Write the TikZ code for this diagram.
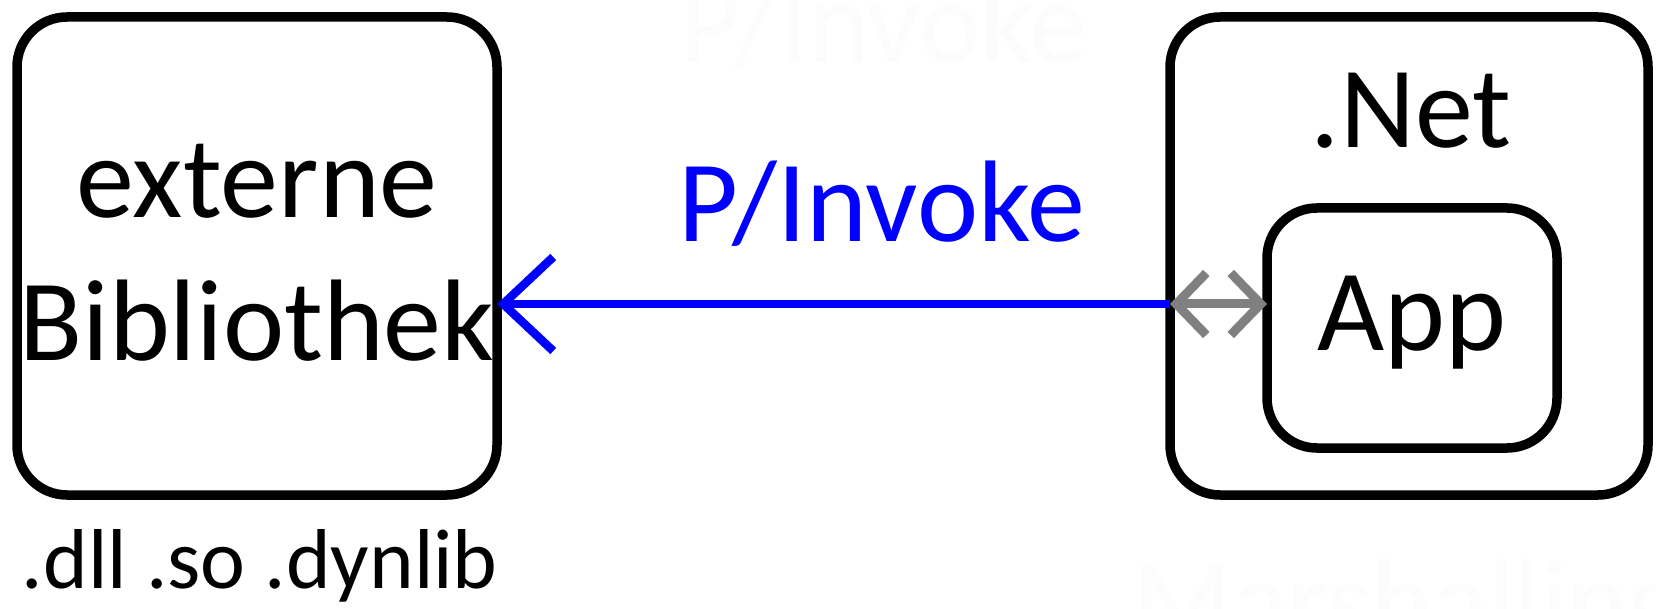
\documentclass[tikz,border=0pt]{standalone}
\usepackage{fontspec}
\setmainfont{Carlito}
\usetikzlibrary{arrows.meta}
\begin{document}
\begin{tikzpicture}[x=1pt,y=-1pt,
  box/.style={draw=black, line width=9.5pt, rounded corners=50pt, inner sep=0pt, outer sep=0pt},
  big/.style={font=\fontsize{116}{140}\selectfont, inner sep=0pt, anchor=base},
  small/.style={font=\fontsize{85}{100}\selectfont, inner sep=0pt, anchor=base},
  ghost/.style={text=black!1.2},
  bluearrow/.style={draw=blue, line width=8.5pt, -{Straight Barb[length=50pt, width=94pt]}},
  grayarrow/.style={draw=black!50, line width=9pt, {Straight Barb[length=30pt, width=62pt]}-{Straight Barb[length=30pt, width=62pt]}}]
\path[fill=white] (0,0) rectangle (1656,609);
\useasboundingbox (0,0) rectangle (1656,609);
% ghost texts
\node[big, ghost] (g1) at (884,63) {P/Invoke};
\node[big, ghost, anchor=base west] (g2) at (1133,640) {Marshalling};
% boxes
\node[box, minimum width=480pt, minimum height=478pt] (lib) at (257,256) {};
\node[box, minimum width=478pt, minimum height=478pt] (net) at (1409,256) {};
\node[box, minimum width=290pt, minimum height=240pt] (app) at (1412,328) {};
% texts
\node[big] (t1) at (257,218) {externe};
\node[big] (t2) at (257,360) {Bibliothek};
\node[big] (t3) at (1411,148) {.Net};
\node[big] (t4) at (1412,350) {App};
\node[big, text=blue] (t5) at (882,242) {P/Invoke};
\node[small] (t6) at (260,588) {.dll .so .dynlib};
% connectors
\coordinate (pj) at (0,304);
\draw[bluearrow] (net.west |- pj) -- (lib.east |- pj);
\draw[grayarrow] (net.west |- pj) -- (app.west |- pj);
\end{tikzpicture}
\end{document}
